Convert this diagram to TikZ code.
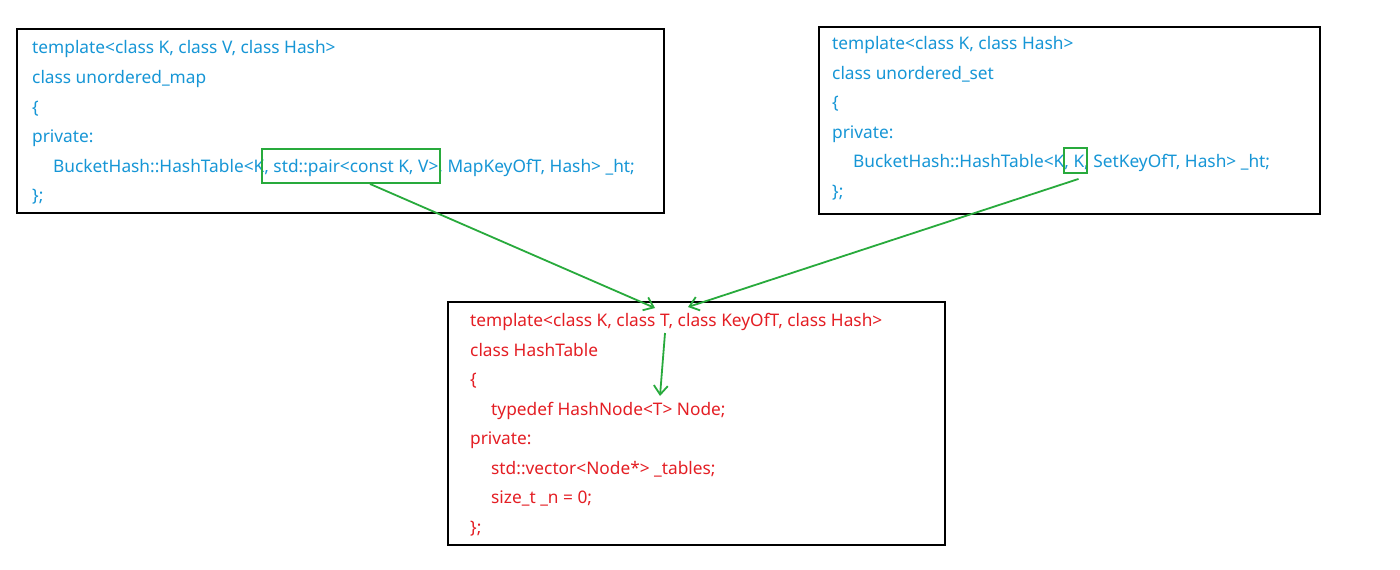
\documentclass[tikz,border=0pt]{standalone}
\usepackage{fontspec}
\setmainfont{Noto Sans}
\usetikzlibrary{arrows.meta}
\definecolor{codeblue}{RGB}{22,150,214}
\definecolor{codered}{RGB}{228,30,36}
\definecolor{hlgreen}{RGB}{40,170,60}
\tikzset{
  x=1pt, y=-1pt,
  frame/.style={draw=black, line width=2.2pt, fill=white, inner sep=0pt},
  codeline/.style={anchor=west, inner sep=0pt, text height=12pt, text depth=4pt, yshift=-2pt, font=\fontsize{17.3}{20}\selectfont},
  bl/.style={codeline, text=codeblue},
  rd/.style={codeline, text=codered},
  hlbox/.style={draw=hlgreen, line width=1.9pt, inner sep=0pt},
  link/.style={draw=hlgreen, line width=1.8pt, -{Straight Barb[length=9pt,width=14pt,line width=1.8pt]}}
}
\begin{document}
\begin{tikzpicture}
\useasboundingbox[fill=white] (0,0) rectangle (1400,570);
% frames
\node[frame, minimum width=647, minimum height=184] (mapbox) at (340.5,121) {};
\node[frame, minimum width=501, minimum height=187] (setbox) at (1069.5,120.5) {};
\node[frame, minimum width=497, minimum height=243] (htbox) at (696.5,423.5) {};
% unordered_map
\node[bl] (m1) at (32,47) {template<class K, class V, class Hash>};
\node[bl] (m2) at (32,77) {class unordered\_map};
\node[bl] (m3) at (32,107) {\{};
\node[bl] (m4) at (32,136) {private:};
\node[bl] (m5) at (53,166) {BucketHash::HashTable<K, std::pair<const K, V>, MapKeyOfT, Hash> \_ht;};
\node[bl] (m6) at (32,195) {\};};
% unordered_set
\node[bl] (s1) at (832,43) {template<class K, class Hash>};
\node[bl] (s2) at (832,73) {class unordered\_set};
\node[bl] (s3) at (832,102) {\{};
\node[bl] (s4) at (832,132) {private:};
\node[bl] (s5) at (853,161) {BucketHash::HashTable<K, K, SetKeyOfT, Hash> \_ht;};
\node[bl] (s6) at (832,191) {\};};
% HashTable
\node[rd] (h1) at (470,320) {template<class K, class T, class KeyOfT, class Hash>};
\node[rd] (h2) at (470,350) {class HashTable};
\node[rd] (h3) at (470,379) {\{};
\node[rd] (h4) at (491,409) {typedef HashNode<T> Node;};
\node[rd] (h5) at (470,438) {private:};
\node[rd] (h6) at (491,468) {std::vector<Node*> \_tables;};
\node[rd] (h7) at (491,497) {size\_t \_n = 0;};
\node[rd] (h8) at (470,527) {\};};
% highlights
\node[hlbox, minimum width=178, minimum height=34] (hl1) at (351,166) {};
\node[hlbox, minimum width=23, minimum height=25] (hl2) at (1075.5,160.5) {};
% arrow targets
\coordinate (t1) at (655,308);
\coordinate (t2) at (688,307);
\coordinate (a3) at (665,333);
\coordinate (t3) at (660,396);
\draw[link] ([xshift=19pt]hl1.south) -- (t1);
\draw[link] ([xshift=3pt,yshift=-5pt]hl2.south) -- (t2);
\draw[link] (a3) -- (t3);
\end{tikzpicture}
\end{document}
